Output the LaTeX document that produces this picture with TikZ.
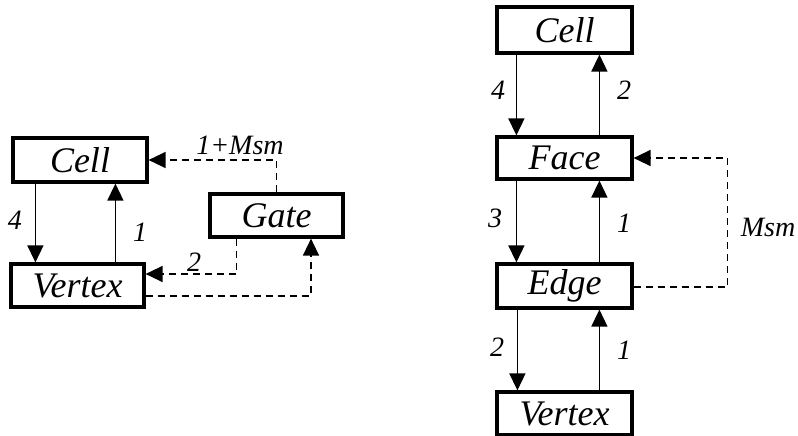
\documentclass[tikz,border=0pt]{standalone}
\usepackage{fontspec}
\setmainfont{Liberation Serif}[ItalicFont={Liberation Serif Italic}]
\usetikzlibrary{arrows.meta}
\begin{document}
\begin{tikzpicture}[x=1pt,y=-1pt,
  box/.style={draw,line width=3.2pt,minimum width=133pt,minimum height=43pt,inner sep=0pt,font=\fontsize{36}{36}\selectfont\itshape},
  lbl/.style={inner sep=0pt,font=\fontsize{28}{28}\selectfont\itshape},
  arr/.style={line width=1.5pt,-{Triangle[length=17pt,width=16pt]}},
  darr/.style={line width=1.4pt,dash pattern=on 7pt off 5pt,-{Triangle[length=17pt,width=16pt]}}]
\useasboundingbox (0,0) rectangle (798,436);
% left diagram
\node[box,minimum width=134pt,minimum height=44pt] (cellL) at (80,160) {Cell};
\node[box] (gateL) at (276.5,215.5) {Gate};
\node[box] (vertexL) at (77.5,285.5) {Vertex};
\draw[arr] ([xshift=24pt]cellL.south west) -- ([xshift=24pt]cellL.south west |- vertexL.north);
\draw[arr] ([xshift=106pt]vertexL.north west) -- ([xshift=106pt]vertexL.north west |- cellL.south);
\draw[darr] (gateL.north) |- (cellL.east);
\draw[darr] ([xshift=-40pt]gateL.south) |- ([yshift=11.5pt]vertexL.east);
\draw[darr] ([yshift=-10.5pt]vertexL.east) -| ([xshift=34.5pt]gateL.south);
\node[lbl] (l4) at (15,220) {4};
\node[lbl] (l1) at (140,232) {1};
\node[lbl] (l1msm) at (240,145) {1+Msm};
\node[lbl] (l2) at (194,262) {2};
% right diagram
\node[box,minimum width=135pt,minimum height=46pt] (cellR) at (564.5,30) {Cell};
\node[box,minimum width=135pt,minimum height=42pt] (faceR) at (564.5,158) {Face};
\node[box,minimum width=135pt,minimum height=44pt] (edgeR) at (564.5,286) {Edge};
\node[box,minimum width=135pt,minimum height=43pt] (vertexR) at (564.5,413.5) {Vertex};
\draw[arr] ([xshift=21pt]cellR.south west) -- ([xshift=21pt]cellR.south west |- faceR.north);
\draw[arr] ([xshift=104pt]faceR.north west) -- ([xshift=104pt]faceR.north west |- cellR.south);
\draw[arr] ([xshift=21pt]faceR.south west) -- ([xshift=21pt]faceR.south west |- edgeR.north);
\draw[arr] ([xshift=104pt]edgeR.north west) -- ([xshift=104pt]edgeR.north west |- faceR.south);
\draw[arr] ([xshift=22pt]edgeR.south west) -- ([xshift=22pt]edgeR.south west |- vertexR.north);
\draw[arr] ([xshift=104pt]vertexR.north west) -- ([xshift=104pt]vertexR.north west |- edgeR.south);
\draw[darr] ([yshift=-1pt]edgeR.east) -- ++(94,0) |- (faceR.east);
\node[lbl] (r4) at (498,90) {4};
\node[lbl] (r2a) at (624,90) {2};
\node[lbl] (r3) at (495,218) {3};
\node[lbl] (r1a) at (624,223) {1};
\node[lbl] (r2b) at (497,347) {2};
\node[lbl] (r1b) at (624,350) {1};
\node[lbl] (rmsm) at (768,227) {Msm};
\end{tikzpicture}
\end{document}
